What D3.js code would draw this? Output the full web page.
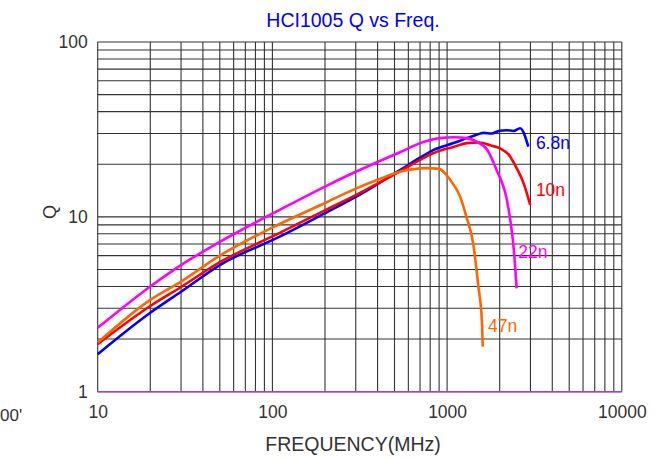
<!DOCTYPE html>
<html><head><meta charset="utf-8">
<script src="https://cdn.jsdelivr.net/npm/d3@7"></script>
<style>body{margin:0;background:#fff}svg{display:block}</style>
</head><body><svg id="c" width="662" height="459"></svg>
<script>
const xTicks = [10, 100, 1000, 10000];
const yTicks = [1, 10, 100];
const seriesNames = ["6.8n", "10n", "22n", "47n"];
const seriesColors = ["#0000ff", "#ff0000", "#ff00ff", "#ff6600"];
const freq68 = [10, 20, 30, 50, 110, 200, 300, 400, 537, 700, 832, 1100, 1295, 1450, 1620, 1800, 2000, 2200, 2400, 2617, 2917];
const q68 =    [1.64, 2.83, 3.73, 5.3, 7.7, 10.5, 13.0, 15.4, 18.5, 21.8, 24.1, 26.5, 28.2, 29.3, 30.2, 30.0, 31.1, 31.3, 31.0, 32.1, 25.2];
const freq10 = [10, 20, 30, 50, 110, 200, 300, 400, 537, 700, 832, 1100, 1295, 1530, 1800, 2000, 2300, 2500, 2740, 2990];
const q10 =    [1.87, 3.09, 3.97, 5.5, 8.09, 10.9, 13.3, 15.5, 18.2, 21.2, 23.1, 25.2, 26.4, 26.6, 25.5, 24.7, 22.1, 19.0, 15.6, 11.7];
const freq22 = [10, 20, 30, 50, 110, 200, 300, 400, 537, 701, 905, 1100, 1295, 1480, 1700, 1920, 2200, 2300, 2420, 2500];
const q22 =    [2.32, 4.0, 5.3, 7.2, 10.96, 14.9, 18.1, 20.6, 23.4, 26.4, 28.2, 28.5, 28.2, 26.9, 24.1, 18.5, 12.5, 9.6, 6.19, 3.9];
const freq47 = [10, 20, 30, 50, 110, 200, 300, 400, 537, 764, 900, 1040, 1190, 1290, 1410, 1510, 1580, 1600];
const q47 =    [1.91, 3.35, 4.26, 6.0, 9.1, 12.0, 14.5, 16.3, 18.1, 19.0, 18.8, 16.3, 13.0, 10.0, 7.06, 4.0, 2.57, 1.81];
const seriesFreq = [freq68, freq10, freq22, freq47];
const seriesQ = [q68, q10, q22, q47];
const labelAt = [[2900, 26.5], [2900, 14.3], [2300, 6.3], [1543, 2.38]];

const FONT = "Liberation Sans, Arial, sans-serif";
const svg = d3.select("#c");
const x = d3.scaleLog().domain([10, 10000]).range([97.7, 621.8]);
const y = d3.scaleLog().domain([1, 100]).range([391.7, 42]);

// grid
const gx = [];
for (let d = 10; d < 10000; d *= 10) for (let k = 1; k <= 10; k++) gx.push(d * k);
const gy = [];
for (let d = 1; d < 100; d *= 10) for (let k = 1; k <= 10; k++) gy.push(d * k);
const g = svg.append("g");
g.selectAll("line.v").data([...new Set(gx)]).join("line")
  .attr("x1", d => x(d)).attr("x2", d => x(d)).attr("y1", y(100)).attr("y2", y(1))
  .attr("stroke", "#333").attr("stroke-width", 1.1);
g.selectAll("line.h").data([...new Set(gy)]).join("line")
  .attr("y1", d => y(d)).attr("y2", d => y(d)).attr("x1", x(10)).attr("x2", x(10000))
  .attr("stroke", "#333").attr("stroke-width", 1.1);
svg.append("line").attr("x1", x(10)).attr("x2", x(10000)).attr("y1", y(1)).attr("y2", y(1))
  .attr("stroke", "#a040d8").attr("stroke-width", 1.6);

// axes labels
const xa = svg.append("g").attr("transform", `translate(0,${y(1)})`)
  .call(d3.axisBottom(x).tickValues(xTicks).tickFormat(d3.format("d")).tickSize(0).tickPadding(14));
const ya = svg.append("g").attr("transform", `translate(${x(10)},0)`)
  .call(d3.axisLeft(y).tickValues(yTicks).tickFormat(d3.format("d")).tickSize(0).tickPadding(10));
[xa, ya].forEach(a => {
  a.select(".domain").remove();
  a.selectAll("text").attr("font-family", FONT).attr("font-size", 17.5).attr("fill", "#333");
});

const line = d3.line().x(d => x(d[0])).y(d => y(d[1])).curve(d3.curveMonotoneX);
seriesFreq.forEach((f, i) => {
  const pts = f.map((v, j) => [v, seriesQ[i][j]]);
  svg.append("path").datum(pts).attr("d", line).attr("fill", "none")
    .attr("stroke", seriesColors[i]).attr("stroke-width", 2.6).attr("stroke-linejoin", "round");
});
seriesNames.forEach((n, i) => {
  svg.append("text").attr("x", x(labelAt[i][0]) + 8).attr("y", y(labelAt[i][1]))
    .attr("dy", "0.35em").text(n).attr("fill", seriesColors[i])
    .attr("font-family", FONT).attr("font-size", 17.5);
});

svg.append("text").attr("x", 353).attr("y", 27).attr("text-anchor", "middle")
  .attr("font-family", FONT).attr("fill", "#0000ff")
  .attr("font-size", 19.5).text("HCI1005 Q vs Freq.");
svg.append("text").attr("x", 353).attr("y", 451).attr("text-anchor", "middle")
  .attr("font-family", FONT).attr("fill", "#333")
  .attr("font-size", 19.5).text("FREQUENCY(MHz)");
svg.append("text").attr("transform", "translate(56,212) rotate(-90)").attr("text-anchor", "middle")
  .attr("font-family", FONT).attr("fill", "#333")
  .attr("font-size", 18).text("Q");
svg.append("text").attr("x", 0).attr("y", 421)
  .attr("font-family", FONT).attr("fill", "#333")
  .attr("font-size", 17).text("00'");
</script></body></html>
